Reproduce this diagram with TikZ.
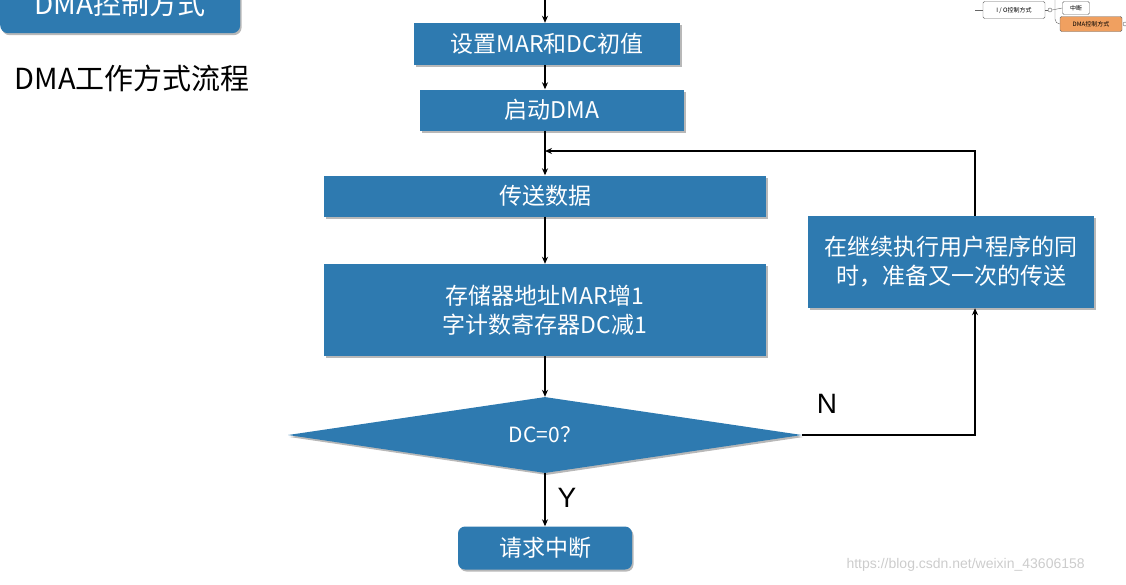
\documentclass[tikz,border=0pt]{standalone}
\usepackage{fontspec}
\setmainfont{Liberation Sans}
\newfontfamily\cjk{Noto Sans CJK SC}
\usetikzlibrary{shapes.geometric,arrows.meta,shadows}
\definecolor{bx}{HTML}{2E7AB0}
\definecolor{og}{HTML}{F0A060}
\tikzset{x=1pt,y=-1pt,
 box/.style={fill=bx,draw=none,text=white,font=\cjk\fontsize{23}{29}\selectfont,align=center,inner sep=0pt,
   drop shadow={shadow xshift=1.5pt,shadow yshift=-2pt,fill=black!35,opacity=.8}},
 ar/.style={-{Stealth[length=7pt,width=6pt]},line width=1.7pt},
 mm/.style={draw=black!60,rounded corners=1.5pt,font=\cjk\fontsize{6}{7}\selectfont,inner sep=1pt}}
\begin{document}
\begin{tikzpicture}
\useasboundingbox (0,0) rectangle (1126,584);
% title
\node[box,rounded corners=8pt,minimum width=240,minimum height=58,font=\cjk\fontsize{28}{32}\selectfont,anchor=north west] (title) at (0,-25) {DMA控制方式};
\node[font=\cjk\fontsize{29}{33}\selectfont,anchor=west] (sub) at (11,78) {DMA工作方式流程};
% flow
\node[box,minimum width=266,minimum height=42] (b1) at (547,44) {设置MAR和DC初值};
\node[box,minimum width=264,minimum height=41] (b2) at (552,110) {启动DMA};
\node[box,minimum width=442,minimum height=41] (b3) at (545,196) {传送数据};
\node[box,minimum width=442,minimum height=92] (b4) at (545,310) {存储器地址MAR增1\\字计数寄存器DC减1};
\node[box,diamond,aspect=6.76,minimum width=514,minimum height=76,font=\cjk\fontsize{21}{25}\selectfont] (d) at (545,435) {DC=0？};
\node[box,rounded corners=7pt,minimum width=174,minimum height=43] (b5) at (545,548) {请求中断};
\node[box,minimum width=286,minimum height=92] (r) at (951,262) {在继续执行用户程序的同\\时，准备又一次的传送};
\coordinate (top) at (545,-2);
\coordinate (c1) at (975,435);
\coordinate (c2) at (975,151);
\coordinate (c3) at (545,151);
\draw[ar] (top) -- (b1.north -| top);
\draw[ar] (b1.south -| top) -- (b2.north -| top);
\draw[ar] (b2.south -| top) -- (b3.north);
\draw[ar] (b3.south) -- (b4.north);
\draw[ar] (b4.south) -- (d.north);
\draw[ar] (d.south) -- (b5.north);
\draw[ar] (d.east) -- (c1) -- (r.south -| c1);
\draw[ar] (r.north -| c2) -- (c2) -- (c3);
\node[font=\fontsize{28}{32}\selectfont] (N) at (827,404) {N};
\node[font=\fontsize{28}{32}\selectfont] (Y) at (567,498) {Y};
% mind map fragment
\node[mm,minimum width=62,minimum height=17] (m1) at (1014,10) {I / O控制方式};
\node[mm,minimum width=27,minimum height=13] (m2) at (1076,8) {中断};
\node[mm,fill=og,minimum width=62,minimum height=15] (m3) at (1091,24) {DMA控制方式};
\coordinate (m0) at (975,10);
\draw[black!60] (m0) -- (m1.west);
\draw[black!60] (m1.east) -- (1048,10);
\draw[black!60] (1050,10) circle (2);
\draw[black!60] (1052,10) -- (m2.west);
\draw[black!60] (1055,0) -- (1055,19) to[out=-90,in=180] (m3.west);
\draw[black!60] (1125,24) circle (2);
\node[text=black!20,font=\fontsize{14}{16}\selectfont,anchor=west] (wm) at (843,565) {https://blog.csdn.net/weixin\_43606158};
\end{tikzpicture}
\end{document}
